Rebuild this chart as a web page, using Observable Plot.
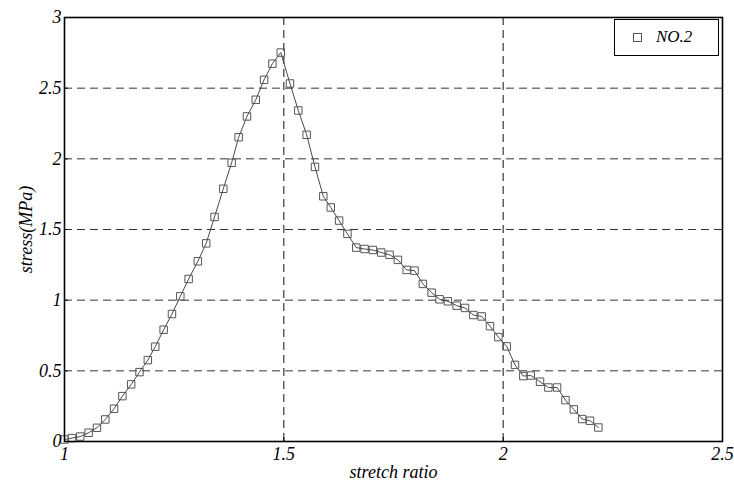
<!DOCTYPE html>
<html>
<head>
<meta charset="utf-8">
<script src="https://cdn.jsdelivr.net/npm/d3@7"></script>
<script src="https://cdn.jsdelivr.net/npm/@observablehq/plot@0.6"></script>
<style>
  html, body { margin: 0; padding: 0; background: #fff; }
  #wrap { position: relative; width: 734px; height: 487px; }
  #legend {
    position: absolute; left: 614px; top: 19px; width: 105px; height: 37px;
    border: 1px solid #000; background: #fff; box-sizing: border-box;
    font-family: "Liberation Serif", "Times New Roman", serif; font-style: italic; font-size: 17px;
  }
  #legend .sq { position: absolute; left: 18px; top: 13px; width: 7px; height: 7px; border: 1px solid #555; }
  #legend .lb { position: absolute; left: 41px; top: 8px; line-height: 18px; }
</style>
</head>
<body>
<div id="wrap"><div id="chart"></div>
<div id="legend"><div class="sq"></div><div class="lb">NO.2</div></div></div>
<script>
const stretch = [1.000,1.017,1.036,1.055,1.074,1.093,1.113,1.132,1.152,1.171,1.190,1.207,1.226,1.245,1.264,1.283,1.304,1.323,1.342,1.362,1.381,1.397,1.416,1.436,1.455,1.474,1.493,1.514,1.533,1.552,1.571,1.590,1.607,1.626,1.645,1.665,1.684,1.703,1.722,1.741,1.760,1.780,1.798,1.817,1.837,1.855,1.874,1.894,1.913,1.932,1.951,1.970,1.989,2.008,2.027,2.046,2.063,2.084,2.103,2.123,2.142,2.161,2.180,2.198,2.217];
const stress = [0.014,0.024,0.035,0.062,0.097,0.156,0.232,0.321,0.404,0.491,0.576,0.671,0.791,0.902,1.027,1.150,1.275,1.402,1.589,1.788,1.972,2.153,2.300,2.418,2.559,2.673,2.752,2.533,2.342,2.170,1.943,1.735,1.656,1.563,1.469,1.372,1.362,1.355,1.337,1.321,1.285,1.214,1.209,1.115,1.053,1.006,0.992,0.961,0.945,0.895,0.885,0.816,0.739,0.673,0.542,0.463,0.467,0.423,0.382,0.382,0.293,0.227,0.159,0.147,0.099];
const xTicks = [1, 1.5, 2, 2.5];
const yTicks = [0, 0.5, 1, 1.5, 2, 2.5, 3];
const seriesName = "NO.2";

const data = stretch.map((x, i) => ({x, y: stress[i]}));
const fmt = d => String(d);
const serif = "'Liberation Serif', 'Times New Roman', serif";

const chart = Plot.plot({
  width: 734, height: 487,
  marginLeft: 64, marginRight: 12, marginTop: 17, marginBottom: 46,
  style: {fontFamily: serif, fontStyle: "italic", fontSize: "18px", color: "#000", background: "#fff"},
  x: {domain: [1, 2.5]},
  y: {domain: [0, 3]},
  marks: [
    Plot.gridX(xTicks.slice(1, -1), {stroke: "#111", strokeOpacity: 1, strokeDasharray: "8,5", strokeWidth: 1}),
    Plot.gridY(yTicks.slice(1, -1), {stroke: "#333", strokeOpacity: 1, strokeDasharray: "8,5", strokeWidth: 1}),
    Plot.line(data, {x: "x", y: "y", stroke: "#333", strokeWidth: 0.9}),
    Plot.dot(data, {x: "x", y: "y", symbol: "square", r: 4.2, stroke: "#555", strokeWidth: 1, fill: "none"}),
    Plot.frame({stroke: "#000", strokeWidth: 1.6}),
    Plot.ruleX(xTicks, {x: d => d, y1: 0, y2: 0.028, stroke: "#000"}),
    Plot.ruleY(yTicks, {y: d => d, x1: 1, x2: 1.009, stroke: "#000"}),
    Plot.axisX(xTicks, {tickSize: 0, tickPadding: 6, fontSize: 18, fontFamily: serif, tickFormat: fmt, label: "stretch ratio", labelAnchor: "center", labelArrow: "none", labelOffset: 36}),
    Plot.axisY(yTicks, {tickSize: 0, tickPadding: 3, fontSize: 18, fontFamily: serif, tickFormat: fmt, label: "stress(MPa)", labelAnchor: "center", labelArrow: "none", labelOffset: 45})
  ]
});
document.getElementById("chart").appendChild(chart);
</script>
</body>
</html>
